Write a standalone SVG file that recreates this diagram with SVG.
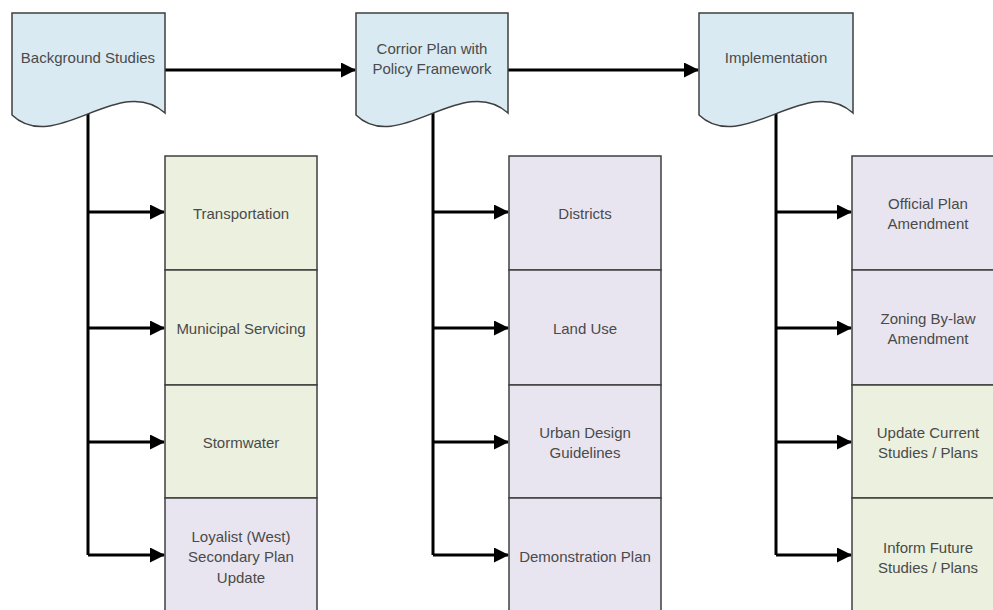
<svg xmlns="http://www.w3.org/2000/svg" width="993" height="610" viewBox="0 0 993 610">
<style>
.doc{fill:#DAEAF2;stroke:#3f3f3f;stroke-width:1.5}
.g{fill:#EBF1DE;stroke:#3f3f3f;stroke-width:1.5}
.p{fill:#E8E5F0;stroke:#3f3f3f;stroke-width:1.5}
text{font-family:"Liberation Sans",Arial,sans-serif;font-size:15px;fill:#4a4a4a;text-anchor:middle;dominant-baseline:central}
.c{fill:none;stroke:#000;stroke-width:3}
</style>
<defs>
<marker id="ah" markerUnits="userSpaceOnUse" markerWidth="15" markerHeight="15" refX="14" refY="7.5" orient="auto">
<path d="M0,0 L15,7.5 L0,15 z" fill="#000"/>
</marker>
</defs>
<g id="connectors">
<path class="c" d="M165,70 H355" marker-end="url(#ah)"/>
<path class="c" d="M508,70 H698" marker-end="url(#ah)"/>
<path class="c" d="M88,113 V555"/>
<path class="c" d="M88,212 H164" marker-end="url(#ah)"/>
<path class="c" d="M88,328 H164" marker-end="url(#ah)"/>
<path class="c" d="M88,442 H164" marker-end="url(#ah)"/>
<path class="c" d="M88,555 H164" marker-end="url(#ah)"/>
<path class="c" d="M433,113 V555"/>
<path class="c" d="M433,212 H508" marker-end="url(#ah)"/>
<path class="c" d="M433,328 H508" marker-end="url(#ah)"/>
<path class="c" d="M433,442 H508" marker-end="url(#ah)"/>
<path class="c" d="M433,555 H508" marker-end="url(#ah)"/>
<path class="c" d="M776,113 V555"/>
<path class="c" d="M776,212 H851" marker-end="url(#ah)"/>
<path class="c" d="M776,328 H851" marker-end="url(#ah)"/>
<path class="c" d="M776,442 H851" marker-end="url(#ah)"/>
<path class="c" d="M776,555 H851" marker-end="url(#ah)"/>
</g>
<g id="background-studies">
<path class="doc" d="M12,13 H165 V113 C120,72 55,156 12,115 Z"/>
<text x="88" y="57">Background Studies</text>
</g>
<g id="corridor-plan">
<path class="doc" d="M356,13 H508 V113 C463,72 398,156 356,115 Z"/>
<text x="432" y="48">Corrior Plan with</text>
<text x="432" y="68">Policy Framework</text>
</g>
<g id="implementation">
<path class="doc" d="M699,13 H853 V113 C808,72 742,156 699,115 Z"/>
<text x="776" y="57">Implementation</text>
</g>
<g id="transportation"><rect class="g" x="165" y="156" width="152" height="114"/><text x="241" y="213">Transportation</text></g>
<g id="municipal-servicing"><rect class="g" x="165" y="270" width="152" height="115"/><text x="241" y="328">Municipal Servicing</text></g>
<g id="stormwater"><rect class="g" x="165" y="385" width="152" height="113"/><text x="241" y="442">Stormwater</text></g>
<g id="loyalist"><rect class="p" x="165" y="498" width="152" height="120"/><text x="241" y="536">Loyalist (West)</text><text x="241" y="556">Secondary Plan</text><text x="241" y="577">Update</text></g>
<g id="districts"><rect class="p" x="509" y="156" width="152" height="114"/><text x="585" y="213">Districts</text></g>
<g id="land-use"><rect class="p" x="509" y="270" width="152" height="115"/><text x="585" y="328">Land Use</text></g>
<g id="urban-design"><rect class="p" x="509" y="385" width="152" height="113"/><text x="585" y="432">Urban Design</text><text x="585" y="452">Guidelines</text></g>
<g id="demonstration-plan"><rect class="p" x="509" y="498" width="152" height="120"/><text x="585" y="556">Demonstration Plan</text></g>
<g id="official-plan"><rect class="p" x="852" y="156" width="152" height="114"/><text x="928" y="203">Official Plan</text><text x="928" y="223">Amendment</text></g>
<g id="zoning"><rect class="p" x="852" y="270" width="152" height="115"/><text x="928" y="318">Zoning By-law</text><text x="928" y="338">Amendment</text></g>
<g id="update-current"><rect class="g" x="852" y="385" width="152" height="113"/><text x="928" y="432">Update Current</text><text x="928" y="452">Studies / Plans</text></g>
<g id="inform-future"><rect class="g" x="852" y="498" width="152" height="120"/><text x="928" y="547">Inform Future</text><text x="928" y="567">Studies / Plans</text></g>
</svg>
